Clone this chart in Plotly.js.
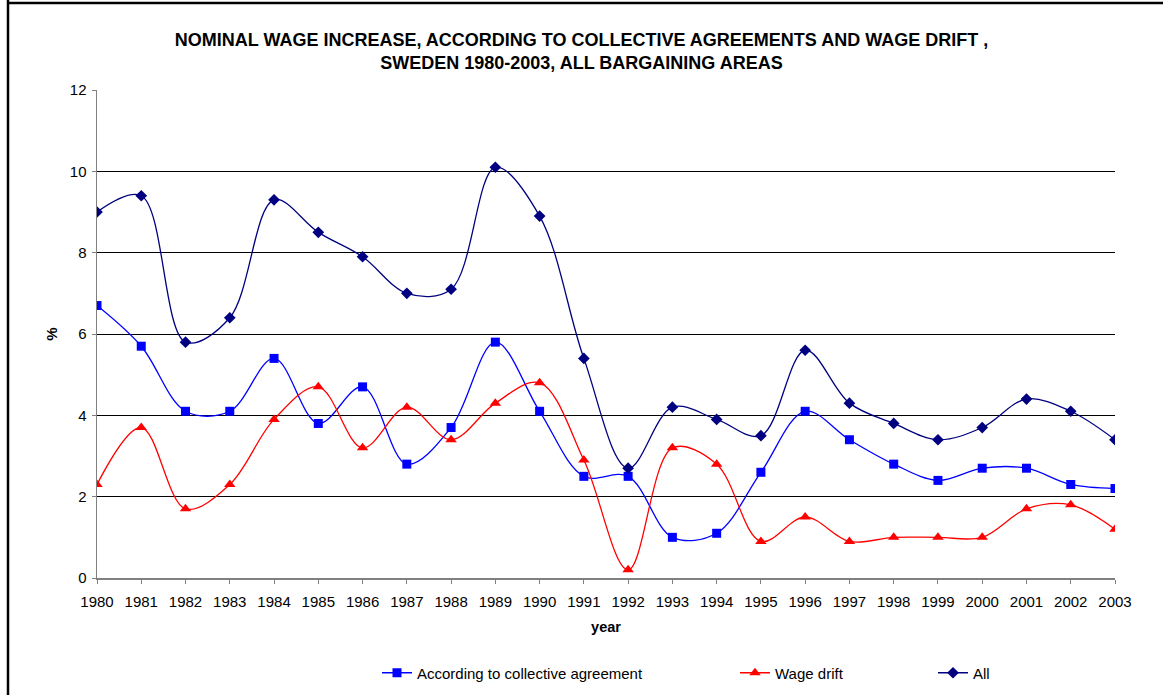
<!DOCTYPE html>
<html>
<head>
<meta charset="utf-8">
<script src="https://cdn.plot.ly/plotly-3.0.1.min.js"></script>
<style>
  html, body { margin: 0; padding: 0; background: #fff; }
  #chart { width: 1163px; height: 695px; }
</style>
</head>
<body>
<div id="chart"></div>
<script>
const years = ['1980','1981','1982','1983','1984','1985','1986','1987','1988','1989','1990','1991',
               '1992','1993','1994','1995','1996','1997','1998','1999','2000','2001','2002','2003'];
const agreement = [6.7,5.7,4.1,4.1,5.4,3.8,4.7,2.8,3.7,5.8,4.1,2.5,2.5,1.0,1.1,2.6,4.1,3.4,2.8,2.4,2.7,2.7,2.3,2.2];
const wageDrift = [2.3,3.7,1.7,2.3,3.9,4.7,3.2,4.2,3.4,4.3,4.8,2.9,0.2,3.2,2.8,0.9,1.5,0.9,1.0,1.0,1.0,1.7,1.8,1.2];
const allAreas  = [9.0,9.4,5.8,6.4,9.3,8.5,7.9,7.0,7.1,10.1,8.9,5.4,2.7,4.2,3.9,3.5,5.6,4.3,3.8,3.4,3.7,4.4,4.1,3.4];
const seriesNames = ['According to collective agreement','Wage drift','All'];
const yTicks = [0,2,4,6,8,10,12];

const FONT = 'Liberation Sans, Arial, sans-serif';

const traces = [
  { x: years, y: agreement, name: seriesNames[0], type: 'scatter', mode: 'lines+markers',
    line: { color: '#0000FF', width: 1.3, shape: 'spline', smoothing: 1 },
    marker: { symbol: 'square', size: 9, color: '#0000FF' }, legend: 'legend' },
  { x: years, y: wageDrift, name: seriesNames[1], type: 'scatter', mode: 'lines+markers',
    line: { color: '#FF0000', width: 1.3, shape: 'spline', smoothing: 1 },
    marker: { symbol: 'triangle-up', size: 10, color: '#FF0000' }, legend: 'legend2' },
  { x: years, y: allAreas, name: seriesNames[2], type: 'scatter', mode: 'lines+markers',
    line: { color: '#000080', width: 1.3, shape: 'spline', smoothing: 1 },
    marker: { symbol: 'diamond', size: 9, color: '#000080' }, legend: 'legend3' }
];

const legendBase = { orientation: 'h', yanchor: 'middle', xanchor: 'left', y: (578 - 673) / 488,
  font: { family: FONT, size: 15, color: '#000' }, bgcolor: 'rgba(0,0,0,0)' };

const layout = {
  width: 1163, height: 695,
  margin: { l: 97, r: 48, t: 90, b: 117, autoexpand: false },
  paper_bgcolor: '#fff', plot_bgcolor: '#fff',
  font: { family: FONT, size: 15, color: '#000' },
  title: { text: '<b>NOMINAL WAGE INCREASE, ACCORDING TO COLLECTIVE AGREEMENTS AND WAGE DRIFT ,<br>SWEDEN 1980-2003, ALL BARGAINING AREAS</b>',
           x: 0.5, xanchor: 'center', yref: 'container', y: 1 - 45.5 / 695, yanchor: 'middle',
           font: { family: FONT, size: 18, color: '#000' } },
  xaxis: {
    type: 'category', range: [0, years.length - 1], autorange: false, automargin: false,
    showline: true, linecolor: '#808080', linewidth: 1.5,
    ticks: 'outside', ticklen: 4, tickcolor: '#808080',
    showgrid: false, zeroline: false, ticklabelstandoff: 5,
    tickfont: { family: FONT, size: 15, color: '#000' },
    title: { text: '<b>year</b>', font: { family: FONT, size: 14.5, color: '#000' }, standoff: 13 }
  },
  yaxis: {
    range: [0, 12], autorange: false, automargin: false, tickvals: yTicks, ticktext: yTicks.map(String),
    showline: true, linecolor: '#808080', linewidth: 1.5,
    ticks: 'outside', ticklen: 4, tickcolor: '#808080',
    showgrid: true, gridcolor: '#000', gridwidth: 1, zeroline: false, ticklabelstandoff: 2,
    tickfont: { family: FONT, size: 15, color: '#000' },
    title: { text: '<b>%</b>', font: { family: FONT, size: 15, color: '#000' }, standoff: 8 }
  },
  showlegend: true,
  legend:  Object.assign({}, legendBase, { x: (377 - 97) / 1018 }),
  legend2: Object.assign({}, legendBase, { x: (735 - 97) / 1018 }),
  legend3: Object.assign({}, legendBase, { x: (933 - 97) / 1018 }),
  shapes: [
    { type: 'line', xref: 'paper', yref: 'paper', x0: (8 - 97) / 1018, x1: (8 - 97) / 1018, y0: 1.2, y1: -0.3,
      line: { color: '#000', width: 2.5 } },
    { type: 'line', xref: 'paper', yref: 'paper', x0: (8 - 97) / 1018, x1: 1.1, y0: (578 - 3) / 488, y1: (578 - 3) / 488,
      line: { color: '#000', width: 2.5 } }
  ]
};

Plotly.newPlot('chart', traces, layout, { displayModeBar: false, staticPlot: true });
</script>
</body>
</html>
